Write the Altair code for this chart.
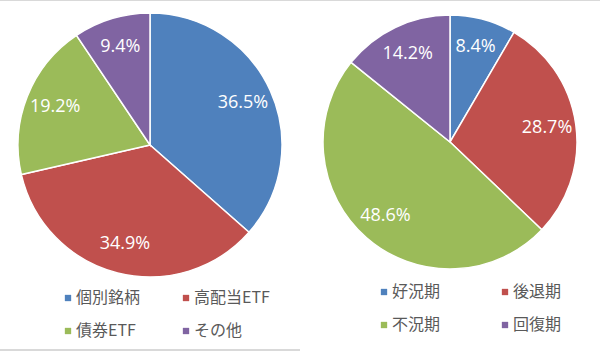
import altair as alt
import pandas as pd

# Left pie data
left_cats = ["個別銘柄", "高配当ETF", "債券ETF", "その他"]
left_vals = [36.5, 34.9, 19.2, 9.4]
# Right pie data
right_cats = ["好況期", "後退期", "不況期", "回復期"]
right_vals = [8.4, 28.7, 48.6, 14.2]

colors = ["#4F81BD", "#C0504D", "#9BBB59", "#8064A2"]

def make_df(cats, vals):
    return pd.DataFrame({
        "cat": cats,
        "value": vals,
        "idx": list(range(len(cats))),
        "label": [f"{v:.1f}%" for v in vals],
    })

ldf = make_df(left_cats, left_vals)
rdf = make_df(right_cats, right_vals)

LEG_FONT = "Noto Sans CJK JP"
LBL_FONT = "Open Sans"

# legend lays out column by column: reorder so it reads row by row
legend_order = [0, 2, 1, 3]


def pie(df, cats, cx, cy, r, lr, lx, ly, colpad):
    dom = [cats[i] for i in legend_order]
    rng = [colors[i] for i in legend_order]
    base = alt.Chart(df)
    arcs = base.mark_arc(outerRadius=r, stroke="white", strokeWidth=1.5).encode(
        theta=alt.Theta("value:Q", stack=True),
        color=alt.Color(
            "cat:N",
            scale=alt.Scale(domain=dom, range=rng),
            legend=alt.Legend(
                orient="none", legendX=lx, legendY=ly, columns=2, title=None,
                symbolType="square", symbolSize=40, symbolStrokeWidth=0,
                labelFont=LEG_FONT, labelFontSize=16, labelColor="#595959",
                labelOffset=0, columnPadding=colpad, rowPadding=17,
                padding=0,
            ),
        ),
        order=alt.Order("idx:Q"),
        x=alt.value(cx),
        y=alt.value(cy),
    )
    text = base.mark_text(
        radius=lr, font=LBL_FONT, fontSize=18, color="white",
        align="center", baseline="middle",
    ).encode(
        theta=alt.Theta("value:Q", stack=True),
        detail="cat:N",
        order=alt.Order("idx:Q"),
        text="label:N",
        x=alt.value(cx),
        y=alt.value(cy),
    )
    return arcs, text

la, lt = pie(ldf, left_cats, 150, 145, 132, 102, 60, 290, 37)
ra, rt = pie(rdf, right_cats, 450, 142, 127, 98, 376, 284, 56)

top_rule = alt.Chart(ldf).mark_rule(color="#d9d9d9", strokeWidth=1).encode(
    x=alt.value(0), x2=alt.value(600), y=alt.value(0.5)
)
bot_rule = alt.Chart(ldf).mark_rule(color="#d9d9d9", strokeWidth=1.5).encode(
    x=alt.value(0), x2=alt.value(300), y=alt.value(350)
)

chart = alt.layer(la, lt, ra, rt, top_rule, bot_rule).resolve_scale(
    color="independent", theta="independent"
).properties(
    width=600, height=351, autosize=alt.AutoSizeParams(type="none"), padding=0
).configure_view(stroke=None)

chart.save("out.html", embed_options={"renderer": "svg", "actions": False})
